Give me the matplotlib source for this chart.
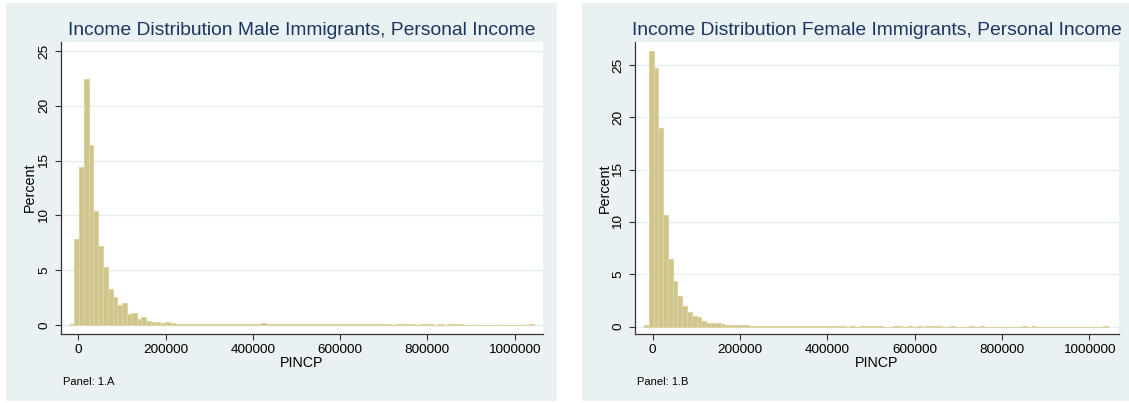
import numpy as np
import matplotlib.pyplot as plt
from matplotlib.patches import Rectangle

plt.rcParams['font.family'] = ['Liberation Sans', 'DejaVu Sans']

# histogram bins (PINCP, dollars)
bin_start = -19998
bin_width = 10960

# percent of persons per bin, male immigrants
male_pct = [
    0.1, 7.85, 14.45, 22.45, 16.4, 10.4, 7.24, 5.29, 3.25, 2.6,
    1.82, 1.97, 0.97, 1.06, 0.55, 0.76, 0.39, 0.27, 0.27, 0.15,
    0.3, 0.2, 0.13, 0.11, 0.11, 0.1, 0.1, 0.09, 0.09, 0.08,
    0.13, 0.09, 0.08, 0.08, 0.08, 0.08, 0.1, 0.08, 0.08, 0.08,
    0.2, 0.08, 0.08, 0.08, 0.08, 0.08, 0.08, 0.08, 0.1, 0.08,
    0.08, 0.08, 0.08, 0.08, 0.08, 0.08, 0.08, 0.08, 0.08, 0.08,
    0.07, 0.08, 0.07, 0.07, 0.07, 0.07, 0.07, 0, 0.07, 0.07,
    0.07, 0.07, 0, 0.07, 0.07, 0.07, 0, 0.07, 0, 0.07,
    0.07, 0.07, 0, 0, 0, 0, 0, 0, 0, 0,
    0, 0, 0, 0, 0, 0, 0.08,
]

# percent of persons per bin, female immigrants
female_pct = [
    0.15, 26.37, 24.68, 19.0, 10.63, 6.42, 4.38, 2.95, 1.96, 1.35,
    1.0, 0.88, 0.5, 0.37, 0.3, 0.3, 0.2, 0.15, 0.13, 0.11,
    0.11, 0.1, 0.09, 0.09, 0.08, 0.08, 0.08, 0.08, 0.08, 0.08,
    0.08, 0.07, 0.07, 0.07, 0.07, 0.07, 0.07, 0.07, 0.07, 0.07,
    0.07, 0.07, 0, 0.07, 0, 0.07, 0.07, 0.07, 0.07, 0.07,
    0, 0, 0.07, 0.07, 0, 0.07, 0, 0.07, 0, 0.07,
    0.07, 0.07, 0, 0, 0.07, 0, 0, 0, 0.07, 0,
    0.07, 0, 0, 0, 0, 0, 0, 0, 0, 0.07,
    0, 0.07, 0, 0, 0, 0, 0, 0, 0, 0,
    0, 0, 0, 0, 0, 0, 0.07,
]

titles = ["Income Distribution Male Immigrants, Personal Income",
          "Income Distribution Female Immigrants, Personal Income"]
notes = ["Panel: 1.A", "Panel: 1.B"]
x_ticks = [0, 200000, 400000, 600000, 800000, 1000000]
y_ticks = [0, 5, 10, 15, 20, 25]

W, H = 1129, 403
bg = '#eaf1f3'
bar_fill = '#d0c68b'
bar_edge = '#dcd4a2'
navy = '#1d3561'
axis_col = '#333333'

fig = plt.figure(figsize=(W / 100, H / 100), dpi=100)
fig.patch.set_facecolor('white')


def px_box(x0, y0, x1, y1):
    # pixel box (top-left origin) -> figure fraction [left, bottom, width, height]
    return [x0 / W, 1 - y1 / H, (x1 - x0) / W, (y1 - y0) / H]


# graph regions
for gx0, gx1 in [(6, 557), (582, 1129)]:
    l, b, w, h = px_box(gx0, 3, gx1, 401)
    fig.add_artist(Rectangle((l, b), w, h, transform=fig.transFigure,
                             facecolor=bg, edgecolor='none', zorder=0))

panels = [
    dict(box=px_box(60.7, 41.7, 542.7, 333.5), data=male_pct,
         xlim=(-40330, 1064160), ylim=(-0.776, 25.85), ylab_x=-0.049),
    dict(box=px_box(635, 42.3, 1119, 334), data=female_pct,
         xlim=(-40540, 1068030), ylim=(-0.717, 27.17), ylab_x=-0.0475),
]

for i, p in enumerate(panels):
    ax = fig.add_axes(p['box'])
    ax.set_facecolor('white')
    pct = np.array(p['data'])
    edges = bin_start + bin_width * np.arange(len(pct))
    ax.bar(edges, pct, width=bin_width, align='edge', color=bar_fill,
           edgecolor=bar_edge, linewidth=0.8, zorder=2)

    ax.set_xlim(*p['xlim'])
    ax.set_ylim(*p['ylim'])
    ax.set_xticks(x_ticks)
    ax.set_xticklabels([str(v) for v in x_ticks])
    ax.set_yticks(y_ticks)
    ax.set_yticklabels([str(v) for v in y_ticks])
    for lab in ax.get_yticklabels():
        lab.set_rotation(90)
        lab.set_va('center')
        lab.set_ha('right')

    ax.grid(axis='y', color='#e6eef0', linewidth=1.0, zorder=1)
    ax.set_axisbelow(True)
    for side in ['top', 'right']:
        ax.spines[side].set_visible(False)
    for side in ['left', 'bottom']:
        ax.spines[side].set_color(axis_col)
        ax.spines[side].set_linewidth(0.9)
    ax.tick_params(axis='both', direction='out', length=4.3, width=0.8,
                   color=axis_col, labelsize=9.7, labelcolor='black')
    ax.tick_params(axis='x', pad=3.2)
    ax.tick_params(axis='y', pad=3.4)

    ax.set_ylabel("Percent", fontsize=10.3)
    ax.yaxis.set_label_coords(p['ylab_x'], 0.5)
    ax.set_xlabel("PINCP", fontsize=10.3, va='top')
    ax.xaxis.set_label_coords(0.5, -0.077)

    ax.set_title(titles[i], fontsize=13.9, color=navy, pad=5)
    ax.text(0.005 if i == 0 else 0.004, -0.165, notes[i], transform=ax.transAxes,
            fontsize=8, va='center', ha='left')

fig.savefig('out.png', dpi=100)
